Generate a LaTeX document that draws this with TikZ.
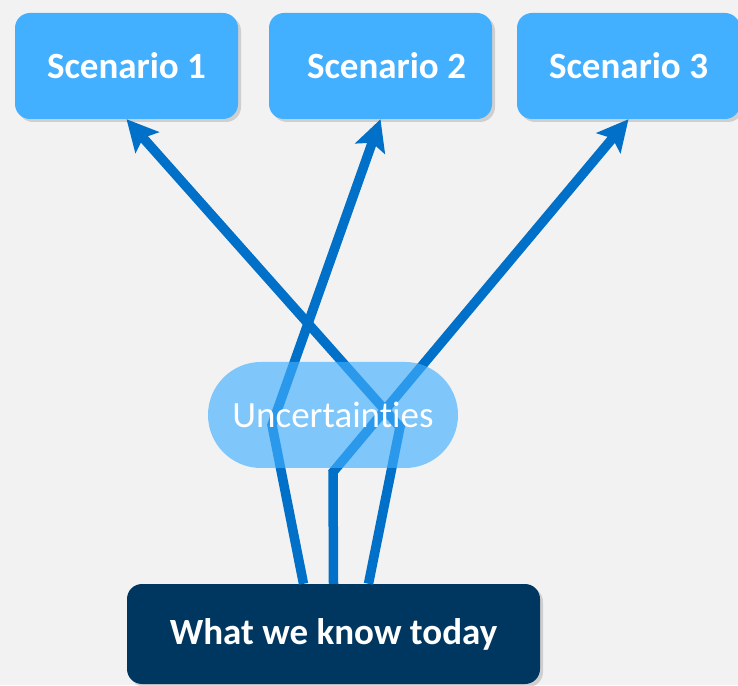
\documentclass[tikz,border=0pt]{standalone}
\usepackage{fontspec}
\setmainfont[Ligatures=NoCommon]{Carlito}
\usetikzlibrary{arrows.meta,shadows}
\definecolor{scenblue}{RGB}{66,175,255}
\definecolor{lineblue}{RGB}{0,112,200}
\definecolor{navy}{RGB}{0,55,96}
\definecolor{bggray}{RGB}{242,242,242}
\tikzset{
  scenbox/.style={rectangle, rounded corners=15pt, fill=scenblue, text=white,
    font=\bfseries\fontsize{37}{44}\selectfont, minimum width=223pt, minimum height=106pt,
    drop shadow={shadow xshift=3pt, shadow yshift=-3pt, opacity=0.3}},
  uncbox/.style={rectangle, rounded corners=53pt, fill=scenblue, fill opacity=0.65,
    text opacity=1, text=white, font=\fontsize{37}{44}\selectfont,
    minimum width=250pt, minimum height=106pt},
  knowbox/.style={rectangle, rounded corners=15pt, fill=navy, text=white,
    font=\bfseries\fontsize{37}{44}\selectfont, minimum width=413pt, minimum height=100pt,
    drop shadow={shadow xshift=3pt, shadow yshift=-3pt, opacity=0.3}},
  flow/.style={draw=lineblue, line width=9.5pt, -{Stealth[length=31pt,width=31pt,inset=6pt]}}
}
\begin{document}
\begin{tikzpicture}[x=1pt,y=1pt]
\fill[bggray] (0,0) rectangle (738,685);
\useasboundingbox (0,0) rectangle (738,685);

\node[scenbox] (s1)    at (126.5,619)   {Scenario 1};
\node[scenbox] (s2)    at (380.5,619)   {\hspace{12pt}Scenario 2};
\node[scenbox] (s3)    at (628.5,619)   {Scenario 3};

\node[knowbox] (know)  at (333.5,51)    {What we know today};

\coordinate (b1) at (272,260);
\coordinate (b2) at (333,213);
\coordinate (b3) at (400,258);

\draw[flow] ([xshift=-30pt]know.north) --  (b1) --  (s2.south);
\draw[flow] (know.north) --  (b2) --  (s3.south);
\draw[flow] ([xshift=35pt]know.north) --  (b3) --  (s1.south);

\node[uncbox] (unc)    at (333,270)     {Uncertainties};
\end{tikzpicture}
\end{document}
